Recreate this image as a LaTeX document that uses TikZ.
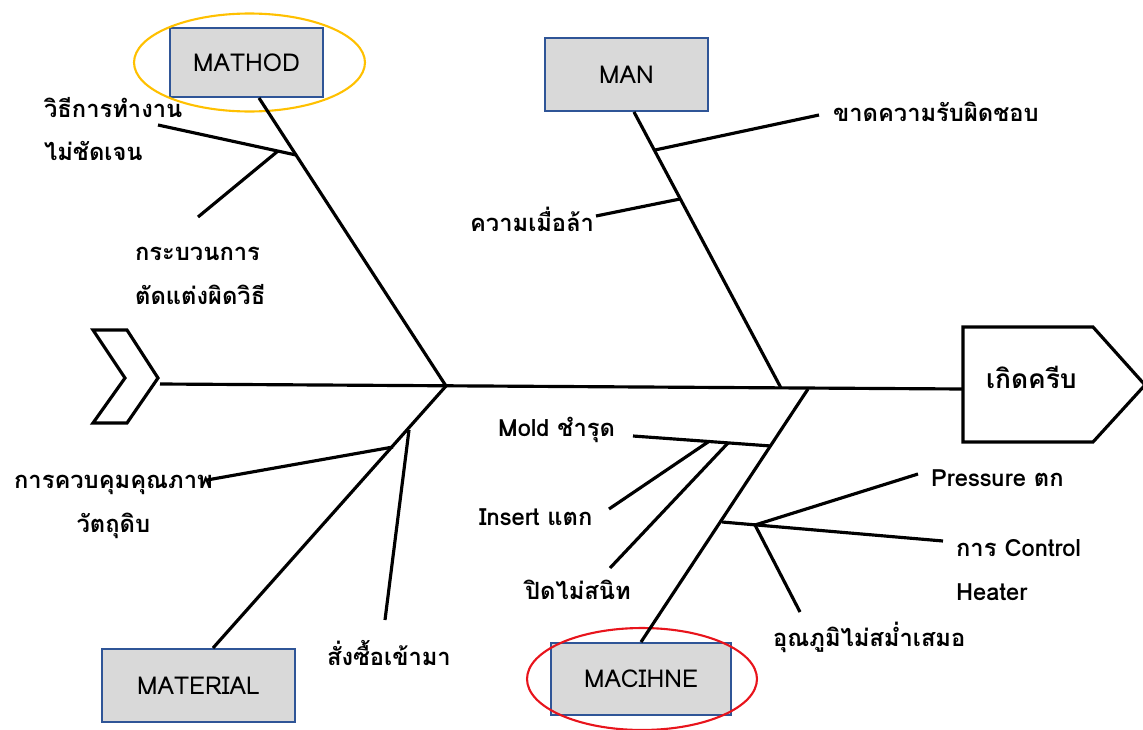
\documentclass[tikz,border=0pt]{standalone}
\usepackage{fontspec}
\setmainfont{Loma}[Script=Thai]
\definecolor{boxblue}{RGB}{47,85,151}
\definecolor{boxgray}{RGB}{217,217,217}
\definecolor{ringyellow}{RGB}{255,192,0}
\definecolor{ringred}{RGB}{232,20,28}

\begin{document}
\begin{tikzpicture}[x=0.02cm, y=-0.02cm, bone/.style = {line width=1.8pt},
    cat/.style = {draw=boxblue, fill=boxgray, line width=1.1pt, font=\fontsize{14}{25}\selectfont},
    cause/.style = {anchor=west, align=left, inner xsep=1pt, font=\fontsize{13.5}{25}\selectfont\bfseries},
    ring/.style = {line width=1.2pt}]
        \useasboundingbox (0,0) rectangle (1143,730);

        \node[cat, minimum width=3.06cm, minimum height=1.38cm] (method) at (246.5,62.5) {MATHOD};
        \node[cat, minimum width=3.26cm, minimum height=1.46cm] (man) at (626.5,74.5) {MAN};
        \node[cat, minimum width=3.86cm, minimum height=1.46cm] (material) at (198.5,685.5) {MATERIAL};
        \node[cat, minimum width=3.6cm, minimum height=1.44cm] (machine) at (641,679) {MACIHNE};

        \draw[ring, ringyellow] ([xshift=0.06cm]method.center) ellipse [x radius=2.31cm, y radius=0.98cm];
        \draw[ring, ringred] ([xshift=0.02cm]machine.center) ellipse [x radius=2.3cm, y radius=1.02cm];

        \draw[bone] (93,330) -- (127,330) -- (158,378) -- (127,423) -- (93,423) -- (125,378) -- cycle;
        \draw[bone] (963,327) -- (1093,327) -- (1145,385) -- (1093,442) -- (963,442) -- cycle;
        \node[cause, font=\fontsize{15}{25}\selectfont\bfseries] (effect) at (984,377) {เกิดครีบ};

        \coordinate (tail) at (160,384);
        \coordinate (head) at (963,389);
        \coordinate (jl) at (446,386);
        \coordinate (jn) at (781,388);
        \coordinate (jc) at (808,389);

        \draw[bone] (tail) -- (head);
        \draw[bone] ([xshift=0.25cm]method.south) -- (jl);
        \draw[bone] ([xshift=0.15cm]man.south) -- (jn);
        \draw[bone] ([xshift=0.29cm]material.north) -- (jl);
        \draw[bone] (machine.north) -- (jc);

        \node[cause] (m1) at (42,129) {วิธีการทำงาน\\ไม่ชัดเจน};
        \node[cause] (m2) at (133,276) {กระบวนการ\\ตัดแต่งผิดวิธี};
        \coordinate (m1a) at (296,155);
        \coordinate (m1b) at (158,125);
        \coordinate (m2a) at (278,151);
        \coordinate (m2b) at (198,217);
        \draw[bone] (m1b) -- (m1a);
        \draw[bone] (m2b) -- (m2a);

        \node[cause] (n1) at (831,112) {ขาดความรับผิดชอบ};
        \node[cause] (n2) at (468,219) {ความเมื่อล้า};
        \coordinate (n1a) at (655,150);
        \coordinate (n1b) at (819,115);
        \coordinate (n2a) at (680,199);
        \coordinate (n2b) at (596,216);
        \draw[bone] (n1a) -- (n1b);
        \draw[bone] (n2a) -- (n2b);

        \node[cause, align=center] (t1) at (12,507) {การควบคุมคุณภาพ\\วัตถุดิบ};
        \node[cause] (t2) at (325,653) {สั่งซื้อเข้ามา};
        \coordinate (t1a) at (393,447);
        \coordinate (t1b) at (207,480);
        \coordinate (t2a) at (409,430);
        \coordinate (t2b) at (385,620);
        \draw[bone] (t1a) -- (t1b);
        \draw[bone] (t2a) -- (t2b);

        \node[cause] (c1) at (496,430) {Mold ชำรุด};
        \node[cause] (c2) at (477,517) {Insert แตก};
        \node[cause] (c3) at (523,590) {ปิดไม่สนิท};
        \node[cause] (c4) at (929,478) {Pressure ตก};
        \node[cause] (c5) at (954,570) {การ Control\\Heater};
        \node[cause] (c6) at (771,637) {อุณภูมิไม่สม่ำเสมอ};
        \coordinate (c1a) at (771,446);
        \coordinate (c1b) at (633,436);
        \coordinate (c2a) at (708,442);
        \coordinate (c2b) at (609,509);
        \coordinate (c3a) at (728,443);
        \coordinate (c3b) at (610,568);
        \coordinate (c5a) at (722,522);
        \coordinate (c5b) at (943,541);
        \coordinate (c4a) at (755,525);
        \coordinate (c4b) at (918,474);
        \coordinate (c6b) at (800,612);
        \draw[bone] (c1a) -- (c1b);
        \draw[bone] (c2a) -- (c2b);
        \draw[bone] (c3a) -- (c3b);
        \draw[bone] (c5a) -- (c5b);
        \draw[bone] (c4a) -- (c4b);
        \draw[bone] (c4a) -- (c6b);

    \end{tikzpicture}
\end{document}
